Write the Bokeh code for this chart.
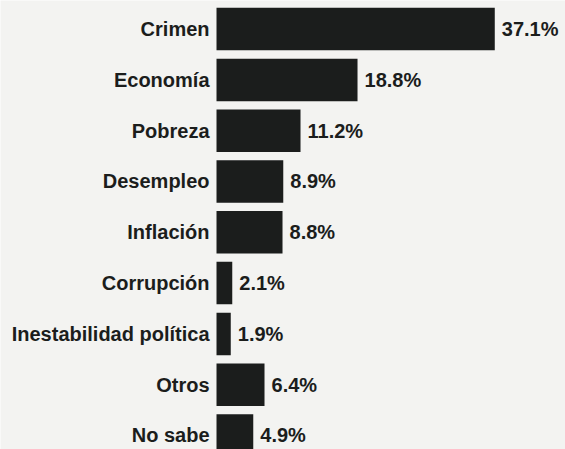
from bokeh.plotting import figure
from bokeh.models import ColumnDataSource, Range1d
from bokeh.core.properties import value
from bokeh.embed import file_html
from bokeh.resources import INLINE

categories = ["Crimen", "Economía", "Pobreza", "Desempleo", "Inflación",
              "Corrupción", "Inestabilidad política", "Otros", "No sabe"]
values = [37.1, 18.8, 11.2, 8.9, 8.8, 2.1, 1.9, 6.4, 4.9]
value_labels = [f"{v:.1f}%" for v in values]

rows = list(range(len(categories)))
src = ColumnDataSource(dict(y=rows, cat=categories, val=values, lab=value_labels,
                            zero=[0] * len(values)))

BG = "#f3f3f1"
INK = "#1b1d1c"

p = figure(width=565, height=449, output_backend="svg", toolbar_location=None,
           x_range=Range1d(-28.8, 46.53), y_range=Range1d(8.276, -0.563),
           min_border=0, background_fill_color=BG, border_fill_color=BG)
p.axis.visible = False
p.grid.visible = False
p.outline_line_color = None

p.hbar(y="y", left="zero", right="val", height=0.837, source=src,
       fill_color=INK, line_color=None)

font = value("Liberation Sans")
p.text(x="zero", y="y", text="cat", source=src, x_offset=-7,
       text_align="right", text_baseline="middle", text_font=font,
       text_font_size="20px", text_font_style="bold", text_color=INK)
p.text(x="val", y="y", text="lab", source=src, x_offset=7,
       text_align="left", text_baseline="middle", text_font=font,
       text_font_size="20px", text_font_style="bold", text_color=INK)

open("out.html", "w").write(file_html(p, INLINE))
